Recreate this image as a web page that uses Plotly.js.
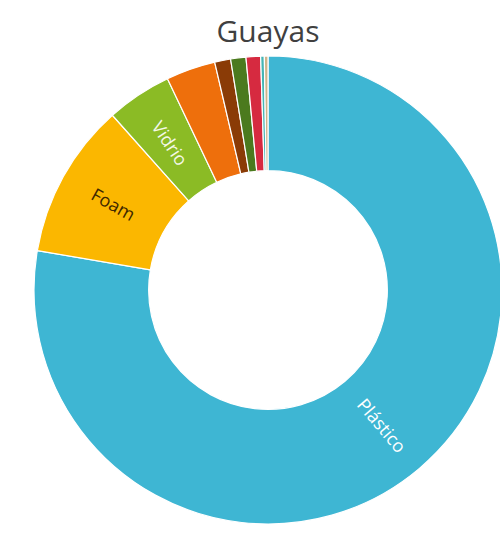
<!DOCTYPE html>
<html>
<head>
<meta charset="utf-8">
<script src="https://cdn.plot.ly/plotly-3.0.1.min.js"></script>
<style>
html, body { margin: 0; padding: 0; overflow: hidden; background: #ffffff; width: 500px; height: 546px; }
#chart { width: 540px; height: 546px; }
</style>
</head>
<body>
<div id="chart"></div>
<script>
// Data (percent of total)
const categories = ["Plástico", "Foam", "Vidrio", "Papel", "Madera", "Caucho", "Metal", "Tela", "Otros"];
const values = [77.5, 10.7, 4.5, 3.4, 1.1, 1.05, 1.0, 0.25, 0.25];
const labelsShown = ["Plástico", "Foam", "Vidrio", "", "", "", "", "", ""];
const sliceColors = ["#3EB6D3", "#FBB700", "#8BBB25", "#EE6F0C", "#8A3B06", "#4B7A1E", "#D62A40", "#45B5B5", "#CFB48A"];
const labelColors = ["#ffffff", "#3f2800", "#f4f8e8", "#ffffff", "#ffffff", "#ffffff", "#ffffff", "#ffffff", "#ffffff"];

const W = 540, H = 546;
const cx = 268, cy = 290, R = 234;
const HOLE = 0.51;
const FONT = "Open Sans, sans-serif";

// Slice labels: placed radially at each slice's mid-angle (computed from the values),
// in the middle of the ring, as the reference does.
const total = values.reduce((a, b) => a + b, 0);
const rMid = R * (1 + HOLE) / 2;
const annotations = [];
let cum = 0;
values.forEach((v, i) => {
  const midFrac = (cum + v / 2) / total;  // clockwise from 12 o'clock
  cum += v;
  if (!labelsShown[i]) return;
  const ang = midFrac * 2 * Math.PI;
  const deg = midFrac * 360;
  annotations.push({
    text: labelsShown[i],
    xref: "paper", yref: "paper",
    x: (cx + rMid * Math.sin(ang)) / W,
    y: 1 - (cy - rMid * Math.cos(ang)) / H,
    xanchor: "center", yanchor: "middle",
    textangle: deg < 180 ? deg - 90 : deg - 270,
    showarrow: false,
    font: { family: FONT, size: 18, color: labelColors[i] }
  });
});

const trace = {
  type: "pie",
  labels: categories,
  values: values,
  textinfo: "none",
  hole: HOLE,
  sort: false,
  direction: "clockwise",
  rotation: 0,
  marker: { colors: sliceColors, line: { color: "#ffffff", width: 1.2 } },
  domain: { x: [(cx - R) / W, (cx + R) / W], y: [1 - (cy + R) / H, 1 - (cy - R) / H] },
  showlegend: false,
  hoverinfo: "label+percent"
};

const layout = {
  width: W,
  height: H,
  margin: { l: 0, r: 0, t: 0, b: 0 },
  paper_bgcolor: "#ffffff",
  title: {
    text: "Guayas",
    font: { family: FONT, size: 30, color: "#404040" },
    x: cx / W,
    xanchor: "center",
    xref: "container",
    y: 1 - 31 / H,
    yanchor: "middle",
    yref: "container"
  },
  annotations: annotations,
  showlegend: false
};

Plotly.newPlot("chart", [trace], layout, { displayModeBar: false, staticPlot: true });
</script>
</body>
</html>
